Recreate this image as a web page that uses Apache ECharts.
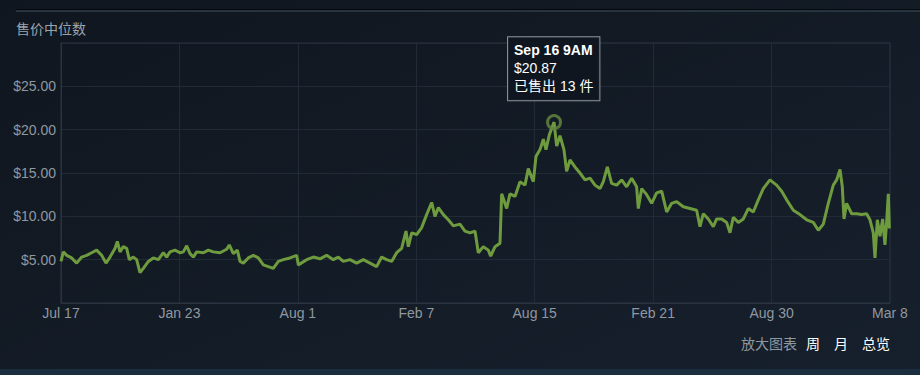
<!DOCTYPE html>
<html><head><meta charset="utf-8">
<script src="https://cdn.jsdelivr.net/npm/echarts@6/dist/echarts.min.js"></script>
<style>html,body{margin:0;padding:0;background:#121922;}#c{width:920px;height:375px;}</style>
</head><body><div id="c"></div>
<script>
const chartTitle = '售价中位数';
const xTickLabels = ['Jul 17', 'Jan 23', 'Aug 1', 'Feb 7', 'Aug 15', 'Feb 21', 'Aug 30', 'Mar 8'];
const tickStepDays = 190;
const yTickValues = [5, 10, 15, 20, 25];
const zoomLinks = ['周', '月', '总览'];
// day offset from first point
const days = [0,3.7,9.1,17.1,25.1,33.2,41.2,49.2,57.2,65.2,72.2,78.6,86.6,90.4,94.7,100,105.4,109.6,116,121.4,126.7,132.1,140.1,148.1,156.1,164.2,169.5,174.9,182.9,190.9,196.3,201.6,207,212.3,217.7,228.3,236.4,244.4,255.1,265.8,270,276.5,282.9,287.2,292.5,300.5,308.6,316.6,324.6,332.6,340.6,348.7,356.7,367.4,378.1,380.8,
394.1,404.8,415.5,426.2,436.9,444.9,452.9,463.6,474.3,485,495.7,506.4,514.4,522.5,530.5,538.5,546.5,553.5,557.2,562.6,570.6,578.6,586.6,594.7,600,605.4,613.4,621.4,629.4,640.1,648.1,656.2,664.2,669.5,677.5,685.6,689.3,696.3,704.3,707,715,720.3,728.4,736.4,744.4,749.7,757.8,762,768.5,773.8,778.1,783.4,791,795.2,800.5,806.9,811.2,816.6,824.6,832.6,840.7,848.7,856.7,864.7,
870.1,876.5,883.4,891.4,899.5,907.5,915.5,923.5,926.2,931.6,939.6,947.6,955.6,963.7,971.7,979.7,987.7,998.4,1009.1,1019.8,1025.1,1030.5,1038.5,1046.5,1051.9,1059.9,1067.9,1073.3,1078.6,1086.6,1094.7,1102.7,1110.7,1118.7,1126.7,1137.4,1148.1,1156.2,1164.2,1174.9,1185.6,1196.3,1206.9,1215,1223,1231,1239,1244.4,1249.8,1253.5,1256.2,1260.4,1268.5,1276.5,1284.5,1292.5,1297.9,1303.2,1305.9,1309.7,1313.9,1318.2,1321.9,1324.6,1327.3,1329];
const prices = [4.8,5.9,5.5,5.2,4.6,5.3,5.5,5.8,6.1,5.5,4.6,5.3,6.3,7.1,5.9,6.5,6.3,5.0,5.3,5.0,3.5,4.0,4.8,5.2,5.0,5.8,5.3,5.9,6.1,5.8,5.9,6.6,5.7,5.3,5.9,5.8,6.1,5.9,5.8,6.2,6.7,5.7,6.1,4.8,4.6,5.2,5.5,5.2,4.4,4.2,4.0,4.8,5.0,5.2,5.5,4.4,
5.0,5.3,5.1,5.5,5.0,5.3,4.8,5.0,4.6,5.0,4.6,4.2,5.3,5.0,4.8,5.8,6.3,8.3,6.5,8.1,7.9,8.7,10.2,11.6,10.0,11.0,10.2,9.6,8.9,9.1,8.3,8.1,8.3,5.8,6.5,6.1,5.4,6.5,6.9,12.6,10.9,12.6,12.3,14.0,13.6,15.5,14.0,16.9,17.7,18.9,17.7,19.4,20.87,18.1,19.3,17.7,15.2,16.5,15.7,15.0,14.2,14.4,13.6,13.2,
14.0,15.7,13.8,13.6,14.2,13.4,14.4,13.4,10.9,13.2,12.5,11.5,12.7,12.9,10.5,11.5,11.7,11.1,10.9,10.7,8.8,10.3,9.7,8.8,9.7,9.7,9.3,8.1,9.9,9.3,9.7,10.9,10.5,11.9,13.2,14.2,13.6,12.9,11.9,10.7,10.2,9.6,9.3,8.4,9.1,11.5,13.6,14.2,15.4,13.4,9.7,11.5,10.3,10.3,10.2,10.3,9.6,8.1,5.2,9.6,7.7,9.7,6.7,9.3,12.6,8.6];
const highlightTime = 'Sep 16 9AM';
const highlightSold = 13;

const seriesData = days.map((d, i) => [d, prices[i]]);
const peakIndex = prices.indexOf(Math.max(...prices));
const FONT = '"Liberation Sans", Arial, "Noto Sans CJK SC", sans-serif';
const CJK = '"Noto Sans CJK SC", "Liberation Sans", sans-serif';

const chart = echarts.init(document.getElementById('c'), null, {renderer: 'svg'});
chart.setOption({
  backgroundColor: {type: 'linear', x: 0, y: 0, x2: 1, y2: 1, colorStops: [{offset: 0, color: '#10161f'}, {offset: 1, color: '#16202c'}]},
  animation: false,
  grid: {left: 61, right: 30, top: 43, bottom: 72, show: true, borderColor: '#2a3440', borderWidth: 1, backgroundColor: 'transparent'},
  xAxis: {
    type: 'value', min: 0, max: tickStepDays * (xTickLabels.length - 1), interval: tickStepDays,
    axisLine: {show: true, lineStyle: {color: '#2a3440'}},
    axisTick: {show: false},
    splitLine: {show: true, lineStyle: {color: '#202b37'}},
    axisLabel: {color: '#8f98a0', fontSize: 14, fontFamily: FONT, margin: 3, showMinLabel: true, showMaxLabel: true,
      formatter: v => xTickLabels[Math.round(v / tickStepDays)] || ''}
  },
  yAxis: {
    type: 'value', min: 0, max: 30, interval: 5,
    axisLine: {show: true, lineStyle: {color: '#2a3440'}},
    axisTick: {show: false},
    splitLine: {show: true, lineStyle: {color: '#202b37'}},
    axisLabel: {color: '#8f98a0', fontSize: 14, fontFamily: FONT, margin: 5,
      formatter: v => yTickValues.includes(v) ? '$' + v.toFixed(2) : ''}
  },
  graphic: [
    {type: 'rect', shape: {x: 16, y: 9, width: 904, height: 1}, style: {fill: '#05080c'}, silent: true},
    {type: 'rect', shape: {x: 16, y: 10, width: 904, height: 2}, style: {fill: '#283340'}, silent: true},
    {type: 'rect', shape: {x: 0, y: 369, width: 920, height: 6}, style: {fill: '#1b2e40'}, silent: true},
    {type: 'text', left: 16, top: 21, style: {text: chartTitle, fill: '#9aa3ab', font: '14px ' + CJK}},
    {type: 'text', left: 741, top: 336, style: {text: '放大图表', fill: '#8f98a0', font: '14px ' + CJK}},
    {type: 'text', left: 806, top: 336, style: {text: zoomLinks[0], fill: '#ffffff', font: '14px ' + CJK}},
    {type: 'text', left: 834, top: 336, style: {text: zoomLinks[1], fill: '#ffffff', font: '14px ' + CJK}},
    {type: 'text', left: 862, top: 336, style: {text: zoomLinks[2], fill: '#ffffff', font: '14px ' + CJK}}
  ],
  series: [{
    type: 'line', data: seriesData, showSymbol: false, symbol: 'none',
    lineStyle: {color: '#6f9b3f', width: 3, join: 'bevel'},
    markPoint: {
      symbol: 'circle', symbolSize: 13,
      itemStyle: {color: 'rgba(0,0,0,0)', borderColor: 'rgba(98,130,62,0.85)', borderWidth: 3},
      data: [{coord: seriesData[peakIndex]}],
      label: {
        show: true, position: 'top', distance: 14, align: 'left', offset: [-46, 0],
        formatter: () => '{b|' + highlightTime + '}\n{n|$' + prices[peakIndex].toFixed(2) + '}\n{n|已售出 ' + highlightSold + ' 件}',
        backgroundColor: 'rgba(16,22,31,0.92)', borderColor: '#8b949c', borderWidth: 1,
        padding: [4, 6, 5, 6],
        rich: {
          b: {color: '#ffffff', fontWeight: 'bold', fontSize: 14, fontFamily: FONT, lineHeight: 18},
          n: {color: '#ffffff', fontSize: 14, fontFamily: FONT, lineHeight: 18}
        }
      }
    }
  }]
});
</script></body></html>
